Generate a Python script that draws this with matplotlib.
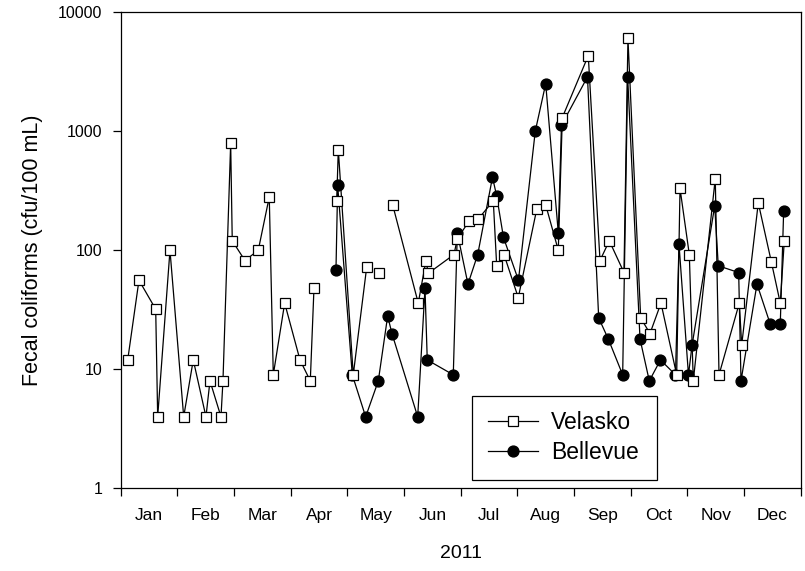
import numpy as np
import matplotlib
matplotlib.use("Agg")
import matplotlib.pyplot as plt
from matplotlib.ticker import FixedLocator, NullFormatter, FixedFormatter

plt.rcParams['font.family'] = ['Liberation Sans', 'DejaVu Sans']

# x positions in months since Jan 1 (equal-width months, as on the original axis)
months = ['Jan', 'Feb', 'Mar', 'Apr', 'May', 'Jun', 'Jul', 'Aug', 'Sep', 'Oct', 'Nov', 'Dec']

# nan = break in the line (no sample)
velasko_x = [0.124, 0.323, 0.618, 0.653, 0.870, 1.112, 1.281, 1.505, 1.576, 1.770,
             1.805, 1.941, 1.969, 2.193, 2.428, 2.622, 2.693, 2.894, 3.164, 3.346,
             3.411, np.nan, 3.812, 3.840, 4.104, 4.341, np.nan, 4.563, np.nan, 4.800,
             5.251, 5.387, 5.428, 5.881, 5.940, 6.146, 6.310, 6.575, 6.635, 6.764,
             7.016, 7.341, 7.500, 7.722, 7.793, 8.251, 8.458, 8.622, 8.881, 8.951,
             9.176, 9.340, 9.534, 9.811, 9.870, 10.034, 10.104, 10.492, 10.558, 10.916,
             10.958, 11.251, 11.481, 11.639, 11.710]
velasko_y = [12, 56, 32, 4, 100, 4, 12, 4, 8, 4,
             8, 790, 120, 82, 100, 280, 9, 36, 12, 8,
             48, np.nan, 260, 700, 9, 72, np.nan, 64, np.nan, 240,
             36, 82, 64, 92, 125, 175, 183, 260, 74, 92,
             40, 220, 240, 100, 1300, 4300, 82, 120, 65, 6000,
             27, 20, 36, 9, 330, 92, 8, 400, 9, 36,
             16, 250, 80, 36, 120]

bellevue_x = [3.799, 3.829, 4.087, 4.323, 4.546, 4.711, 4.787, 5.241, 5.370, 5.410,
              5.869, 5.940, 6.128, 6.300, 6.561, 6.635, 6.755, 7.019, 7.316, 7.500,
              7.722, 7.778, 8.237, 8.435, 8.604, 8.858, 8.946, 9.164, 9.328, 9.525,
              9.790, 9.852, 10.019, 10.083, 10.482, 10.545, 10.905, 10.946, 11.228, 11.462,
              11.639, 11.699]
bellevue_y = [68, 350, 9, 4, 8, 28, 20, 4, 48, 12,
              9, 140, 52, 92, 410, 285, 128, 56, 1000, 2500,
              140, 1120, 2850, 27, 18, 9, 2850, 18, 8, 12,
              9, 112, 9, 16, 236, 74, 65, 8, 52, 24,
              24, 215]

fig = plt.figure(figsize=(8.05, 5.71), dpi=100)
ax = fig.add_axes([0.1499, 0.1445, 0.8448, 0.8345])

ax.plot(velasko_x, velasko_y, color='black', lw=0.9, marker='s', ms=6.8,
        mfc='white', mec='black', mew=0.9, label='Velasko', zorder=3)
ax.plot(bellevue_x, bellevue_y, color='black', lw=0.9, marker='o', ms=7.8,
        mfc='black', mec='black', label='Bellevue', zorder=2)

ax.set_yscale('log')
ax.set_ylim(1, 10000)
ax.set_xlim(0, 12)
ax.yaxis.set_major_locator(FixedLocator([1, 10, 100, 1000, 10000]))
ax.yaxis.set_major_formatter(FixedFormatter(['1', '10', '100', '1000', '10000']))
ax.yaxis.set_minor_locator(FixedLocator([]))

ax.xaxis.set_major_locator(FixedLocator(np.arange(13)))
ax.xaxis.set_major_formatter(NullFormatter())
ax.xaxis.set_minor_locator(FixedLocator(np.arange(12) + 0.5))
ax.xaxis.set_minor_formatter(FixedFormatter(months))

ax.tick_params(axis='y', which='major', direction='out', length=6, width=0.9,
               labelsize=11.5, pad=7)
ax.tick_params(axis='x', which='major', direction='out', length=6, width=0.9)
ax.tick_params(axis='x', which='minor', length=0, labelsize=12.5, pad=14)

for s in ax.spines.values():
    s.set_linewidth(0.9)

ax.set_ylabel('Fecal coliforms (cfu/100 mL)', fontsize=15.5, labelpad=11)
ax.set_xlabel('2011', fontsize=14, labelpad=16)

leg = ax.legend(loc='lower left', bbox_to_anchor=(0.517, 0.0178, 0.272, 0.2),
                mode='expand', borderaxespad=0,
                fontsize=16.5, handlelength=2.2, handletextpad=0.54, labelspacing=0.31,
                borderpad=0.68, fancybox=False, framealpha=1, edgecolor='black')
leg.get_frame().set_linewidth(0.9)

fig.savefig('out.png', dpi=100)
